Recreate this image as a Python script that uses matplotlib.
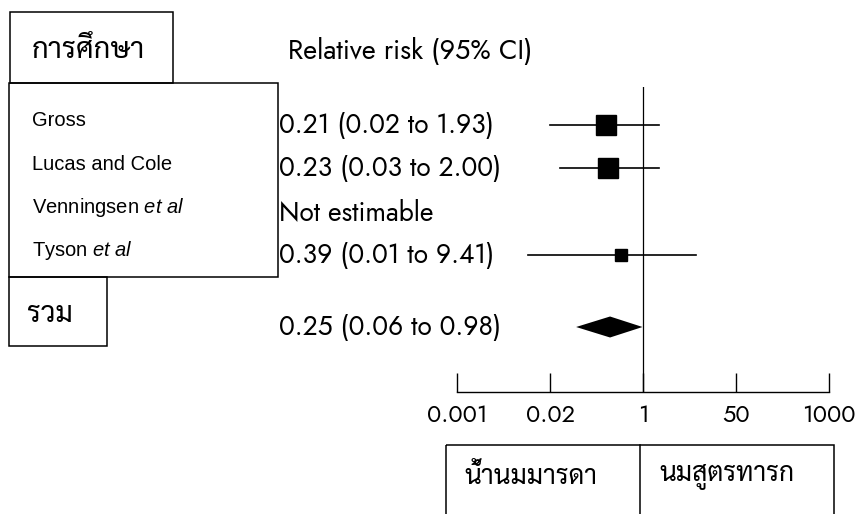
import matplotlib
matplotlib.use("Agg")
import matplotlib.pyplot as plt
from matplotlib.patches import Rectangle
import numpy as np

# ---------------- data ----------------
studies = ["Gross", "Lucas and Cole", "Venningsen $\\mathit{et\\ al}$", "Tyson $\\mathit{et\\ al}$"]
rr_text = ["0.21 (0.02 to 1.93)", "0.23 (0.03 to 2.00)", "Not estimable", "0.39 (0.01 to 9.41)"]
rr = [0.21, 0.23, np.nan, 0.39]
lo = [0.02, 0.03, np.nan, 0.01]
hi = [1.93, 2.00, np.nan, 9.41]
weights = [42.5, 42.5, 0.0, 15.0]
pooled_label = "0.25 (0.06 to 0.98)"
pooled = 0.25
pooled_lo = 0.06
pooled_hi = 0.98
tick_values = [0.001, 0.02, 1, 50, 1000]
tick_labels = ["0.001", "0.02", "1", "50", "1000"]
header_study = "การศึกษา"
header_rr = "Relative risk (95% CI)"
total_label = "รวม"
favours_left = "น้ำนมมารดา"
favours_right = "นมสูตรทารก"

# ---------------- fonts ----------------
plt.rcParams["mathtext.fontset"] = "custom"
plt.rcParams["mathtext.rm"] = "Liberation Sans"
plt.rcParams["mathtext.it"] = "Liberation Sans:italic"
GEO = ["Jost", "DejaVu Sans"]
ARIAL = ["Liberation Sans", "DejaVu Sans"]
THAI = ["Sarabun", "Noto Sans Thai", "DejaVu Sans"]

W, H = 864, 514
fig = plt.figure(figsize=(W / 100, H / 100), dpi=100)

# overlay in pixel coordinates for frames
ov = fig.add_axes([0, 0, 1, 1])
ov.set_xlim(0, W)
ov.set_ylim(H, 0)
ov.axis("off")

# ---------------- forest axes ----------------
x0, x1 = 457, 829
ytop, ybot = 87, 392
ax = fig.add_axes([x0 / W, 1 - ybot / H, (x1 - x0) / W, (ybot - ytop) / H])
ax.patch.set_alpha(0)

LT = np.log10(tick_values)
IDX = np.arange(len(tick_values), dtype=float)


def fwd(v):
    v = np.clip(np.asarray(v, dtype=float), 1e-12, None)
    return np.interp(np.log10(v), LT, IDX)


def inv(u):
    return 10 ** np.interp(np.asarray(u, dtype=float), IDX, LT)


ax.set_xscale("function", functions=(fwd, inv))
ax.set_xlim(tick_values[0], tick_values[-1])

row_px = 43.3
row0 = 125
rows = np.arange(len(studies), dtype=float)
pooled_row = (327 - row0) / row_px
ax.set_ylim((ybot - row0) / row_px, (ytop - row0) / row_px)

ax.axvline(1, color="black", lw=0.9, zorder=1)

for i in range(len(studies)):
    if np.isnan(rr[i]):
        continue
    ax.plot([lo[i], hi[i]], [rows[i], rows[i]], color="black", lw=1.2, zorder=2)
    ms = 14.4 * np.sqrt(weights[i] / max(weights))
    ax.plot(rr[i], rows[i], marker="s", ms=ms, color="black", mec="black", zorder=3)

hh = 10.5 / row_px
ax.fill([pooled_lo, pooled, pooled_hi, pooled],
        [pooled_row, pooled_row - hh, pooled_row, pooled_row + hh],
        color="black", lw=0, zorder=3)

for s in ["top", "left", "right"]:
    ax.spines[s].set_visible(False)
ax.spines["bottom"].set_linewidth(1.0)
ax.set_yticks([])
ax.set_xticks(tick_values)
ax.set_xticklabels(tick_labels, family=GEO, fontsize=17)
ax.xaxis.set_minor_locator(matplotlib.ticker.NullLocator())
ax.tick_params(axis="x", direction="in", length=13.5, width=1.0, pad=9)

# ---------------- texts ----------------
tr = matplotlib.transforms.blended_transform_factory(ov.transData, ax.transData)
for i in range(len(studies)):
    ax.text(32, rows[i] - 4 / row_px, studies[i], transform=tr, family=ARIAL,
            fontsize=14.5, va="center", ha="left")
    ax.text(279, rows[i], rr_text[i], transform=tr, family=GEO,
            fontsize=19, va="center", ha="left")
ax.text(279, pooled_row, pooled_label, transform=tr, family=GEO,
        fontsize=19, va="center", ha="left")
ax.text(27, pooled_row - 12 / row_px, total_label, transform=tr, family=THAI,
        fontsize=20.5, va="center", ha="left")

ov.text(32, 50, header_study, family=THAI, fontsize=21, va="center", ha="left")
ov.text(288, 51, header_rr, family=GEO, fontsize=19.5, va="center", ha="left")
ov.text(464, 477, favours_left, family=THAI, fontsize=19, va="center", ha="left")
ov.text(659, 477, favours_right, family=THAI, fontsize=19, va="center", ha="left")

# ---------------- frames ----------------
lw = 1.1
ov.add_patch(Rectangle((10, 12), 163, 71, fill=False, lw=lw, ec="black"))
ov.add_patch(Rectangle((9, 83), 269, 194, fill=False, lw=lw, ec="black"))
ov.add_patch(Rectangle((9, 277), 98, 69, fill=False, lw=lw, ec="black"))
ov.add_patch(Rectangle((446, 445), 388, 90, fill=False, lw=lw, ec="black", clip_on=False))
ov.plot([640, 640], [445, 520], color="black", lw=lw)

fig.savefig("out.png", dpi=100)
